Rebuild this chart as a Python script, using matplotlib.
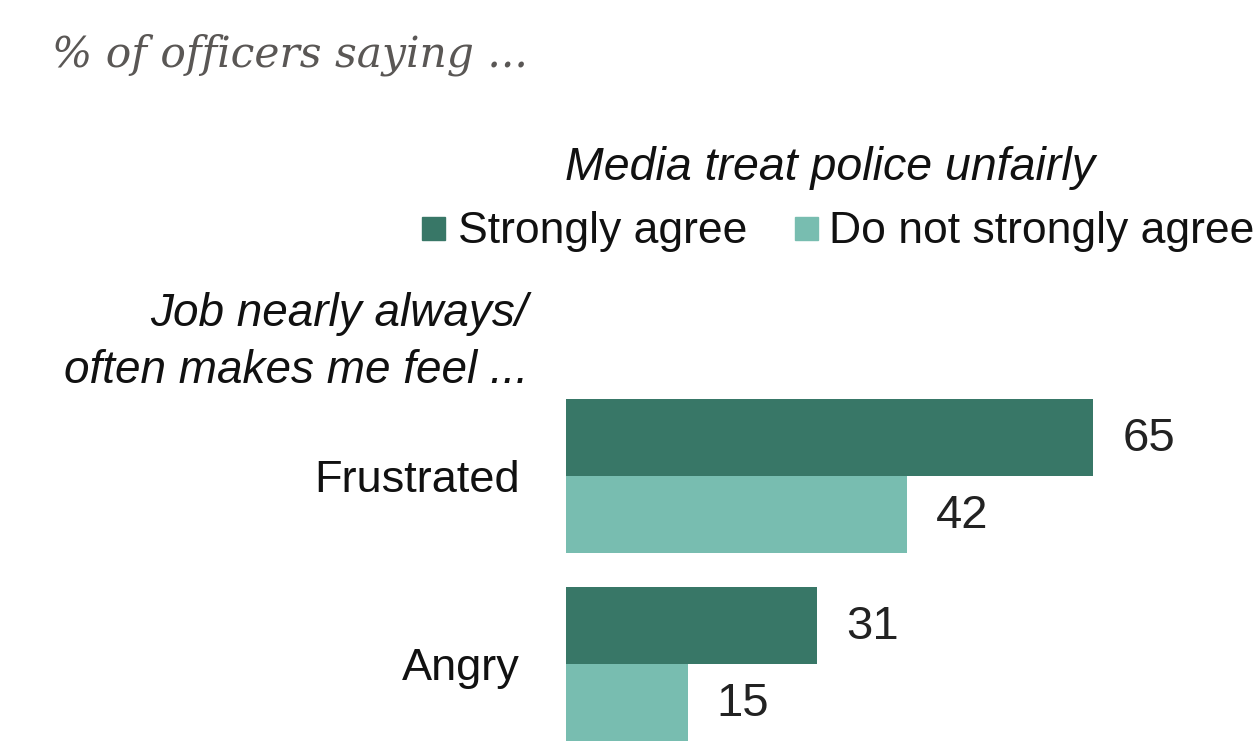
import matplotlib
matplotlib.use("Agg")
import matplotlib.pyplot as plt
from matplotlib.patches import Rectangle
import numpy as np

# data
categories = ["Frustrated", "Angry"]
strongly_agree = [65, 31]
not_strongly_agree = [42, 15]
series_names = ["Strongly agree", "Do not strongly agree"]
legend_title = "Media treat police unfairly"
title = "% of officers saying ..."
row_header = ["Job nearly always/", "often makes me feel ..."]

dark = "#387767"
light = "#78bdb0"

W, H = 1253, 741
plt.rcParams['font.family'] = ['Liberation Sans', 'DejaVu Sans']

fig = plt.figure(figsize=(W / 100, H / 100), dpi=100)


# pixel -> figure fraction
def px(x, y):
    return x / W, 1 - y / H


# bar area: x=0 at pixel 566, ~8.11 px per point
px_per_unit = 8.11
ax = fig.add_axes([566 / W, 0, 680 / W, 1])
ax.set_xlim(0, 680 / px_per_unit)
row_gap = 188
ax.set_ylim((H - 476) / row_gap, -476 / row_gap)
h = 77 / row_gap

y = np.arange(len(categories))
b1 = ax.barh(y - h / 2, strongly_agree, height=h, color=dark)
b2 = ax.barh(y + h / 2, not_strongly_agree, height=h, color=light)

for bars, vals in [(b1, strongly_agree), (b2, not_strongly_agree)]:
    for bar, v in zip(bars, vals):
        ax.annotate(str(v), (v, bar.get_y() + bar.get_height() / 2),
                    xytext=(21, -1), textcoords="offset points",
                    ha="left", va="center", fontsize=34, color="#222222")

ax.set_yticks(y, categories)
ax.tick_params(axis="y", length=0, pad=33, labelsize=32.5, labelcolor="#111111")
ax.set_xticks([])
for s in ax.spines.values():
    s.set_visible(False)

# title
fig.text(*px(52, 67), title, fontsize=30.5, style="italic",
         family=["DejaVu Serif"], color="#5a5755", va="baseline", ha="left")

# legend
fig.text(*px(830, 180), legend_title, fontsize=33.5, style="italic",
         ha="center", va="baseline", color="#111111")
for x0, txt_x, col, name in [(422, 458, dark, series_names[0]),
                             (795, 829, light, series_names[1])]:
    fig.patches.append(Rectangle(px(x0, 240), 23 / W, 23 / H,
                                 transform=fig.transFigure, color=col))
    fig.text(*px(txt_x, 243), name, fontsize=32, ha="left",
             va="baseline", color="#111111")

# row header
fig.text(*px(528, 326), row_header[0], fontsize=33, style="italic",
         ha="right", va="baseline", color="#111111")
fig.text(*px(528, 383), row_header[1], fontsize=33, style="italic",
         ha="right", va="baseline", color="#111111")

fig.savefig("out.png", dpi=100, facecolor="white")
